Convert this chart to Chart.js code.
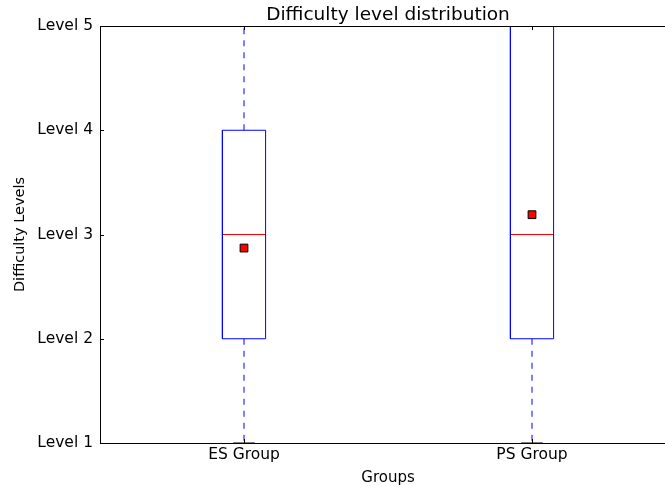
<!DOCTYPE html>
<html>
<head>
<meta charset="utf-8">
<script src="https://cdn.jsdelivr.net/npm/chart.js@4"></script>
<style>
  html, body { margin: 0; padding: 0; overflow: hidden; background: #fff; }
  canvas { display: block; }
</style>
</head>
<body>
<canvas id="grafico" width="700" height="487"></canvas>
<script>
// dados
const groups = ['ES Group', 'PS Group'];
const positions = [1, 2];
const mins = [1, 1];
const q1s = [2, 2];
const medians = [3, 3];
const q3s = [4, 5];
const maxs = [5, 5];
const means = [2.87, 3.19];
const yTickLabels = ['Level 1', 'Level 2', 'Level 3', 'Level 4', 'Level 5'];

const BOX_HALF = 0.075;
const CAP_HALF = 0.0375;
const FONT = "'DejaVu Sans', sans-serif";

// monta os datasets do boxplot a partir dos arrays
const datasets = [];
positions.forEach((x, i) => {
    const base = { type: 'scatter', showLine: true, pointRadius: 0, borderWidth: 1, fill: false };
    datasets.push({ ...base, borderColor: '#0000ff', data: [
        { x: x - BOX_HALF, y: q1s[i] }, { x: x + BOX_HALF, y: q1s[i] },
        { x: x + BOX_HALF, y: q3s[i] }, { x: x - BOX_HALF, y: q3s[i] },
        { x: x - BOX_HALF, y: q1s[i] }
    ] });
    datasets.push({ ...base, borderColor: '#ff0000', data: [
        { x: x - BOX_HALF, y: medians[i] }, { x: x + BOX_HALF, y: medians[i] }
    ] });
    datasets.push({ ...base, borderColor: '#0000ff', borderDash: [6, 6], data: [
        { x: x, y: q3s[i] }, { x: x, y: maxs[i] }
    ] });
    datasets.push({ ...base, borderColor: '#0000ff', borderDash: [6, 6], data: [
        { x: x, y: q1s[i] }, { x: x, y: mins[i] }
    ] });
    datasets.push({ ...base, borderColor: '#000000', data: [
        { x: x - CAP_HALF, y: maxs[i] }, { x: x + CAP_HALF, y: maxs[i] }
    ] });
    datasets.push({ ...base, borderColor: '#000000', data: [
        { x: x - CAP_HALF, y: mins[i] }, { x: x + CAP_HALF, y: mins[i] }
    ] });
});
datasets.push({
    type: 'scatter',
    data: positions.map((x, i) => ({ x: x, y: means[i] })),
    pointStyle: 'rect',
    pointRadius: 5.5,
    backgroundColor: '#ff0000',
    borderColor: '#000000',
    borderWidth: 1
});

// moldura, ticks internos e título no estilo matplotlib
const estiloMpl = {
    id: 'estiloMpl',
    afterDatasetsDraw(chart) {
        const { ctx, chartArea: a, scales } = chart;
        ctx.save();
        ctx.strokeStyle = '#000';
        ctx.lineWidth = 1;
        ctx.strokeRect(a.left + 0.5, a.top + 0.5, a.right - a.left, a.bottom - a.top);
        ctx.beginPath();
        [1, 2, 3, 4, 5].forEach(v => {
            const y = Math.round(scales.y.getPixelForValue(v)) + 0.5;
            ctx.moveTo(a.left, y); ctx.lineTo(a.left + 4, y);
            ctx.moveTo(a.right, y); ctx.lineTo(a.right - 4, y);
        });
        positions.forEach(v => {
            const x = Math.round(scales.x.getPixelForValue(v)) + 0.5;
            ctx.moveTo(x, a.top); ctx.lineTo(x, a.top + 4);
            ctx.moveTo(x, a.bottom); ctx.lineTo(x, a.bottom - 4);
        });
        ctx.stroke();
        ctx.fillStyle = '#000';
        ctx.font = '18.5px ' + FONT;
        ctx.textAlign = 'center';
        ctx.textBaseline = 'bottom';
        ctx.fillText('Difficulty level distribution', (a.left + a.right) / 2, a.top - 2);
        ctx.restore();
    }
};

new Chart(document.getElementById('grafico'), {
    type: 'scatter',
    data: { datasets: datasets },
    options: {
        responsive: false,
        animation: false,
        layout: { padding: { top: 26, right: 24, left: 0, bottom: 0 } },
        plugins: { legend: { display: false }, tooltip: { enabled: false } },
        scales: {
            x: {
                type: 'linear',
                min: 0.5,
                max: 2.5,
                afterBuildTicks: s => { s.ticks = positions.map(v => ({ value: v })); },
                afterFit: s => { s.height = 44; },
                ticks: {
                    color: '#000',
                    font: { family: FONT, size: 15.5 },
                    padding: 3,
                    maxRotation: 0,
                    callback: v => groups[positions.indexOf(v)]
                },
                grid: { display: false, drawTicks: false },
                border: { display: false },
                title: { display: true, text: 'Groups', color: '#000', font: { family: FONT, size: 15 }, padding: { top: 2, bottom: 0 } }
            },
            y: {
                min: 1,
                max: 5,
                afterFit: s => { s.width = 100; },
                ticks: {
                    stepSize: 1,
                    color: '#000',
                    font: { family: FONT, size: 15.5 },
                    padding: 7,
                    callback: v => yTickLabels[v - 1]
                },
                grid: { display: false, drawTicks: false },
                border: { display: false },
                title: { display: true, text: 'Difficulty Levels', color: '#000', font: { family: FONT, size: 14.5 }, padding: { top: 12, bottom: 0 } }
            }
        }
    },
    plugins: [estiloMpl]
});
</script>
</body>
</html>
